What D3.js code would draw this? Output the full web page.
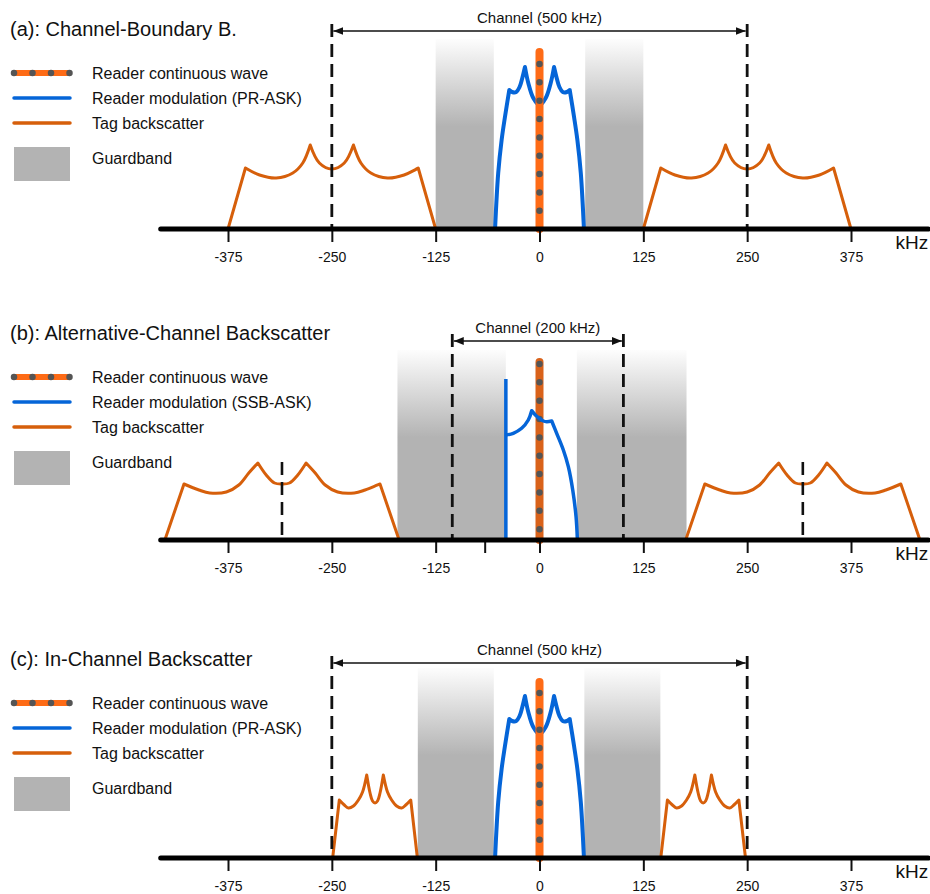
<!DOCTYPE html>
<html><head><meta charset="utf-8">
<script src="https://cdn.jsdelivr.net/npm/d3@7"></script>
<style>
body{margin:0;background:#fff}
svg{display:block;font-family:"Liberation Sans",Arial,Helvetica,sans-serif}
</style>
</head><body>
<svg id="chart" width="930" height="894"></svg>
<script>
// ---------------- DATA ----------------
const tickValues = [-375, -250, -125, 0, 125, 250, 375];
const unlabeledTicks = [[], [-66], []];
const axisExtent = [-456, 468];
const panelTitles = ["(a): Channel-Boundary B.", "(b): Alternative-Channel Backscatter", "(c): In-Channel Backscatter"];
const cwLabel = "Reader continuous wave";
const modulationLabels = ["Reader modulation (PR-ASK)", "Reader modulation (SSB-ASK)", "Reader modulation (PR-ASK)"];
const tagLabel = "Tag backscatter";
const guardLabel = "Guardband";
const channelLabels = ["Channel (500 kHz)", "Channel (200 kHz)", "Channel (500 kHz)"];
const channelEdges = [[-250, 250], [-105, 101], [-250, 250]];
const guardbands = [
  [[-125, -55], [55, 125]],
  [[-171, -40.5], [45, 177]],
  [[-146.5, -55], [54, 145.5]]
];
const guardbandLevel = 190;
const cwLevels = [177, 178, 176];
const tagCenters = [[-250, 250], [-310, 317], [-198, 197]];
const tagMarkerCenters = [[], [-310, 317], []];
const tagMarkerLevel = 78;

// tag backscatter lobe shapes: [offset kHz from lobe centre, level], split at cusps
const tagLobeA = [
  [[-125, 0], [-104, 61]],
  [[-104, 61], [-87, 54], [-67, 51], [-47, 56], [-35, 66], [-26, 84]],
  [[-26, 84], [-15, 66], [0, 60], [15, 66], [26, 84]],
  [[26, 84], [35, 66], [47, 56], [67, 51], [87, 54], [104, 61]],
  [[104, 61], [125, 0]]
];
const tagLobeB = [
  [[-141, 0], [-118, 56]],
  [[-118, 56], [-100, 50], [-87, 47], [-67, 48], [-52, 55], [-40, 67], [-29, 77]],
  [[-29, 77], [-19, 65], [-9, 57], [0, 56], [9, 57], [19, 65], [29, 77]],
  [[29, 77], [40, 67], [52, 55], [67, 48], [87, 47], [100, 50], [118, 56]],
  [[118, 56], [141, 0]]
];
const tagLobeC = [
  [[-51, 0], [-43, 58]],
  [[-43, 58], [-37, 53], [-32, 50], [-26, 52], [-20, 58], [-15, 66], [-10, 83]],
  [[-10, 83], [-6, 65], [-3, 57], [0, 55], [3, 57], [6, 65], [10, 83]],
  [[10, 83], [15, 66], [20, 58], [26, 52], [32, 50], [37, 53], [43, 58]],
  [[43, 58], [51, 0]]
];
const tagLobes = [tagLobeA, tagLobeB, tagLobeC];

// reader modulation PR-ASK spectrum (kHz, level), split at cusps
const prAsk = [
  [[-53.5, 0], [-49.7, 56], [-45.6, 89], [-41.6, 112], [-36.4, 139]],
  [[-36.4, 139], [-33, 137], [-28, 137], [-24, 142], [-21, 150], [-17.5, 162]],
  [[-17.5, 162], [-13.5, 146], [-7.5, 131], [0, 124], [7.5, 131], [13.5, 146], [17.5, 162]],
  [[17.5, 162], [21, 150], [24, 142], [28, 137], [33, 137], [36.4, 139]],
  [[36.4, 139], [41.6, 112], [45.6, 89], [49.7, 56], [53.5, 0]]
];
// reader modulation SSB-ASK spectrum
const ssbEdge = [[-40.5, 0], [-40.5, 161]];
const ssbAsk = [
  [[-40.5, 105], [-31.6, 106.7], [-21.5, 111.7], [-13.5, 120], [-9.4, 129.3]],
  [[-9.4, 129.3], [-5, 125], [-0.2, 121.7], [4.6, 119], [8.7, 118.3], [14.7, 119]],
  [[14.7, 119], [20.7, 106.7], [28.7, 90], [34.7, 73.3], [40, 50], [44, 23.3], [45.6, 0]]
];
const modulationCurves = [prAsk, ssbAsk, prAsk];

// ---------------- LAYOUT / STYLE ----------------
const titleY = [36, 340, 666];
const axisY = [229, 540, 858];
const arrowY = [31, 341, 663];
const cwFirstDot = [12, 2, 11];
const colors = {
  blue: "#0565d8",
  tag: "#d65f0b",
  cw: "#fe6b16",
  cwB: "#d9621a",
  dot: "#555555",
  gray: "#b3b3b3",
  text: "#111111"
};

const svg = d3.select("#chart");
const defs = svg.append("defs");
const grad = defs.append("linearGradient").attr("id", "gbGrad")
  .attr("x1", 0).attr("y1", 0).attr("x2", 0).attr("y2", 1);
grad.append("stop").attr("offset", "0%").attr("stop-color", "#fdfdfd");
grad.append("stop").attr("offset", "46%").attr("stop-color", colors.gray);
grad.append("stop").attr("offset", "100%").attr("stop-color", colors.gray);

defs.append("marker").attr("id", "arrowHead")
  .attr("viewBox", "0 0 10 8").attr("refX", 10).attr("refY", 4)
  .attr("markerWidth", 10).attr("markerHeight", 8)
  .attr("markerUnits", "userSpaceOnUse")
  .attr("orient", "auto-start-reverse")
  .append("path").attr("d", "M0,0L10,4L0,8Z").attr("fill", "#111");

const x = d3.scaleLinear().domain([-375, 375]).range([228, 851]);

function segPath(segs, xf, yf) {
  const line = d3.line().x(d => xf(d[0])).y(d => yf(d[1])).curve(d3.curveCatmullRom.alpha(0.5));
  return segs.map((s, i) => {
    const p = line(s);
    return i ? p.replace(/^M[^A-Za-z]*/, "") : p;
  }).join("");
}

panelTitles.forEach((title, p) => {
  const g = svg.append("g");
  const y = d3.scaleLinear().domain([0, 200]).range([axisY[p], axisY[p] - 200]);
  const ty = titleY[p];

  // title
  g.append("text").attr("x", 10).attr("y", ty).attr("font-size", 20)
    .attr("fill", colors.text).text(title);

  // legend
  const lg = g.append("g");
  const l1 = ty + 37, l2 = ty + 62, l3 = ty + 87, l4 = ty + 111;
  lg.append("line").attr("x1", 14).attr("x2", 70).attr("y1", l1).attr("y2", l1)
    .attr("stroke", colors.cw).attr("stroke-width", 6);
  lg.append("line").attr("x1", 14).attr("x2", 70).attr("y1", l1).attr("y2", l1)
    .attr("stroke", colors.dot).attr("stroke-width", 6.5).attr("stroke-linecap", "round")
    .attr("stroke-dasharray", "0 18.5");
  lg.append("line").attr("x1", 14).attr("x2", 70).attr("y1", l2).attr("y2", l2)
    .attr("stroke", colors.blue).attr("stroke-width", 3.5).attr("stroke-linecap", "round");
  lg.append("line").attr("x1", 14).attr("x2", 70).attr("y1", l3).attr("y2", l3)
    .attr("stroke", colors.tag).attr("stroke-width", 3.5).attr("stroke-linecap", "round");
  lg.append("rect").attr("x", 14).attr("y", l4).attr("width", 56).attr("height", 34)
    .attr("fill", colors.gray);
  const lt = [[cwLabel, l1 + 6], [modulationLabels[p], l2 + 6], [tagLabel, l3 + 6], [guardLabel, l4 + 17]];
  lt.forEach(([t, yy]) => lg.append("text").attr("x", 92).attr("y", yy)
    .attr("font-size", 16).attr("fill", colors.text).text(t));

  // guardbands
  g.selectAll(".gb").data(guardbands[p]).join("rect")
    .attr("x", d => x(d[0])).attr("width", d => x(d[1]) - x(d[0]))
    .attr("y", y(guardbandLevel)).attr("height", y(0) - y(guardbandLevel))
    .attr("fill", "url(#gbGrad)");

  // tag backscatter lobes
  tagCenters[p].forEach(c => {
    const shifted = tagLobes[p].map(s => s.map(d => [c + d[0], d[1]]));
    g.append("path").attr("d", segPath(shifted, x, y))
      .attr("fill", "none").attr("stroke", colors.tag).attr("stroke-width", 3)
      .attr("stroke-linejoin", "round");
  });

  // channel dashed lines + arrow
  const ay = arrowY[p];
  channelEdges[p].forEach(e => {
    g.append("line").attr("x1", x(e)).attr("x2", x(e)).attr("y1", ay - 7).attr("y2", y(0))
      .attr("stroke", "#111").attr("stroke-width", 2.8).attr("stroke-dasharray", "13 7");
  });
  g.append("line").attr("x1", x(channelEdges[p][0]) + 1.5).attr("x2", x(channelEdges[p][1]) - 1.5)
    .attr("y1", ay).attr("y2", ay).attr("stroke", "#111").attr("stroke-width", 1.3)
    .attr("marker-start", "url(#arrowHead)").attr("marker-end", "url(#arrowHead)");
  g.append("text").attr("x", (x(channelEdges[p][0]) + x(channelEdges[p][1])) / 2)
    .attr("y", ay - 8).attr("text-anchor", "middle").attr("font-size", 15)
    .attr("fill", colors.text).text(channelLabels[p]);

  // tag lobe centre markers (panel b)
  tagMarkerCenters[p].forEach(c => {
    g.append("line").attr("x1", x(c)).attr("x2", x(c)).attr("y1", y(tagMarkerLevel)).attr("y2", y(0))
      .attr("stroke", "#111").attr("stroke-width", 2.6).attr("stroke-dasharray", "13 7");
  });

  // reader modulation
  const modG = g.append("g");
  if (p === 1) {
    modG.append("path").attr("d", d3.line().x(d => x(d[0])).y(d => y(d[1]))(ssbEdge))
      .attr("stroke", colors.blue).attr("stroke-width", 3.5).attr("fill", "none");
  }
  modG.append("path").attr("d", segPath(modulationCurves[p], x, y))
    .attr("fill", "none").attr("stroke", colors.blue).attr("stroke-width", p === 1 ? 3.5 : 4)
    .attr("stroke-linejoin", "round");

  // reader continuous wave
  const cwG = g.append("g");
  const cwPath = `M${x(0)},${y(cwLevels[p])}L${x(0)},${y(0)}`;
  cwG.append("path").attr("d", cwPath).attr("stroke", p === 1 ? colors.cwB : colors.cw)
    .attr("stroke-width", 8).attr("stroke-linecap", "round").attr("fill", "none");
  cwG.append("path").attr("d", cwPath).attr("stroke", colors.dot)
    .attr("stroke-width", 6.5).attr("stroke-linecap", "round").attr("fill", "none")
    .attr("stroke-dasharray", "0 18.35").attr("stroke-dashoffset", -cwFirstDot[p]);
  if (p === 1) modG.raise();

  // axis
  const axis = d3.axisBottom(x).tickValues(tickValues.concat(unlabeledTicks[p]))
    .tickSize(13).tickPadding(10)
    .tickFormat(d => tickValues.includes(d) ? String(d) : "");
  const ag = g.append("g").attr("transform", `translate(0,${axisY[p]})`).call(axis);
  ag.select(".domain").remove();
  ag.selectAll(".tick line").attr("stroke", "#111").attr("stroke-width", 2);
  ag.selectAll(".tick text").attr("font-size", 14).attr("fill", colors.text)
    .attr("font-family", "'Liberation Sans',Arial,sans-serif");
  g.append("line").attr("x1", x(axisExtent[0])).attr("x2", x(axisExtent[1]))
    .attr("y1", axisY[p]).attr("y2", axisY[p])
    .attr("stroke", "#000").attr("stroke-width", 5).attr("stroke-linecap", "round");
  g.append("text").attr("x", x(axisExtent[1])).attr("y", axisY[p] + 20)
    .attr("text-anchor", "end").attr("font-size", 19).attr("fill", colors.text).text("kHz");
});
</script>
</body></html>
